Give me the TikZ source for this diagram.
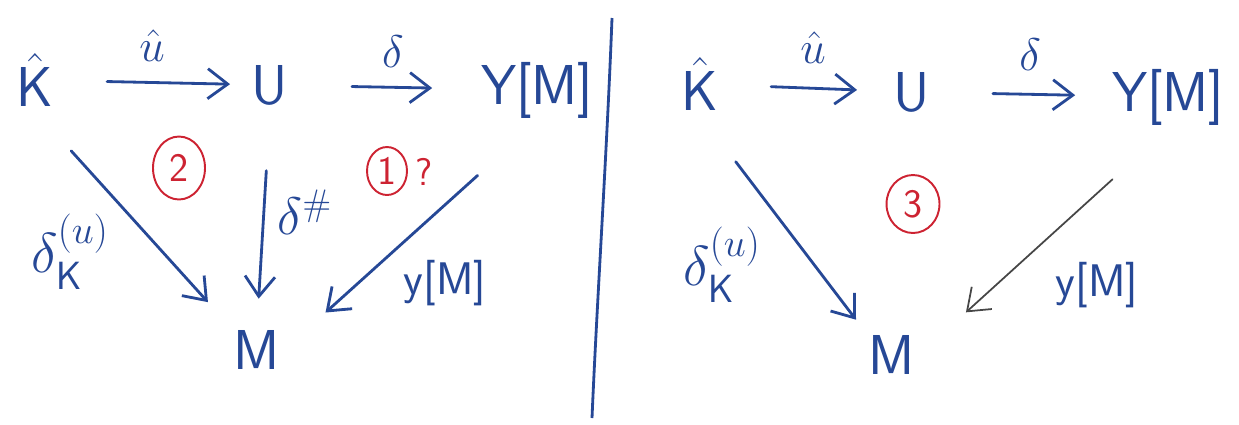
\documentclass[tikz,border=0pt]{standalone}
\usepackage{fix-cm}
\usepackage{amsmath, amssymb}
\usetikzlibrary{arrows.meta, shapes.geometric}

\definecolor{ink}{RGB}{38,72,150}
\definecolor{redink}{RGB}{205,35,50}
\definecolor{pencil}{RGB}{70,70,70}

\tikzset{
  obj/.style={text=ink, font=\fontsize{32}{36}\selectfont\sffamily, inner sep=2pt},
  lbl/.style={text=ink, font=\fontsize{26}{30}\selectfont\sffamily, inner sep=0pt},
  arr/.style={draw=ink, line width=1.6pt, line cap=round, -{Straight Barb[length=4mm,width=6mm]}},
  circnum/.style={draw=redink, text=redink, ellipse, line width=1.1pt, inner sep=0pt,
    font=\fontsize{23}{27}\selectfont\sffamily},
}

\begin{document}
\begin{tikzpicture}[x=0.02cm, y=-0.02cm]
    \useasboundingbox (0,0) rectangle (1239,424);

    % left diagram
    \node[obj] (K1) at (35,80) {$\hat{\mathsf{K}}$};
    \node[obj] (U1) at (270,85) {U};
    \node[obj] (Y1) at (537,90) {Y[M]};
    \node[obj] (M1) at (257,350) {M};

    \draw[arr, shorten <=1cm, shorten >=0.36cm] (K1) -- (U1);
    \draw[arr, shorten <=1.2cm, shorten >=0.9cm] (U1) -- (Y1);
    \draw[arr, shorten <=1.08cm, shorten >=0.66cm] (K1.south) -- (M1.north west);
    \draw[arr, shorten <=1.24cm, shorten >=0.56cm] (U1.south) -- (M1.north);
    \draw[arr, shorten <=1.6cm, shorten >=1.12cm] (Y1.south) -- (M1.east);

    \node[lbl] (u1) at (152,46) {$\hat{u}$};
    \node[lbl] (d1) at (393,52) {$\delta$};
    \node[lbl, font=\fontsize{32}{36}\selectfont\sffamily] (dk1) at (70,252) {$\delta_{\mathsf{K}}^{(u)}$};
    \node[lbl, font=\fontsize{30}{34}\selectfont\sffamily] (ds1) at (305,212) {$\delta^{\#}$};
    \node[lbl] (y1) at (445,283) {y[M]};

    \node[circnum, minimum width=1.04cm, minimum height=1.26cm] (c2) at (179,168) {2};
    \node[circnum, minimum width=0.8cm, minimum height=0.96cm] (c1) at (387,171) {1};
    \node[lbl, text=redink, font=\fontsize{22}{26}\selectfont\sffamily] (q1) at (424,172) {?};

    % divider
    \coordinate (top) at (612,18);
    \coordinate (bot) at (592,418);
    \draw[ink, line width=1.6pt] (top) .. controls (607,150) and (597,300) .. (bot);

    % right diagram
    \node[obj] (K2) at (700,84) {$\hat{\mathsf{K}}$};
    \node[obj] (U2) at (912,92) {U};
    \node[obj] (Y2) at (1168,97) {Y[M]};
    \node[obj] (M2) at (892,355) {M};

    \draw[arr, shorten <=0.98cm, shorten >=0.66cm] (K2) -- (U2);
    \draw[arr, shorten <=1.18cm, shorten >=0.66cm] (U2) -- (Y2);
    \draw[arr, shorten <=1.18cm, shorten >=0.3cm] (K2.south) -- (M2.north west);
    \draw[arr, draw=pencil, line width=1pt, shorten <=1.5cm, shorten >=1.27cm] (Y2.south) -- (M2.east);

    \node[lbl] (u2) at (813,48) {$\hat{u}$};
    \node[lbl] (d2) at (1030,55) {$\delta$};
    \node[lbl, font=\fontsize{32}{36}\selectfont\sffamily] (dk2) at (722,265) {$\delta_{\mathsf{K}}^{(u)}$};
    \node[lbl] (y2) at (1097,285) {y[M]};

    \node[circnum, minimum width=1.06cm, minimum height=1.16cm] (c3) at (913,204) {3};
\end{tikzpicture}
\end{document}
